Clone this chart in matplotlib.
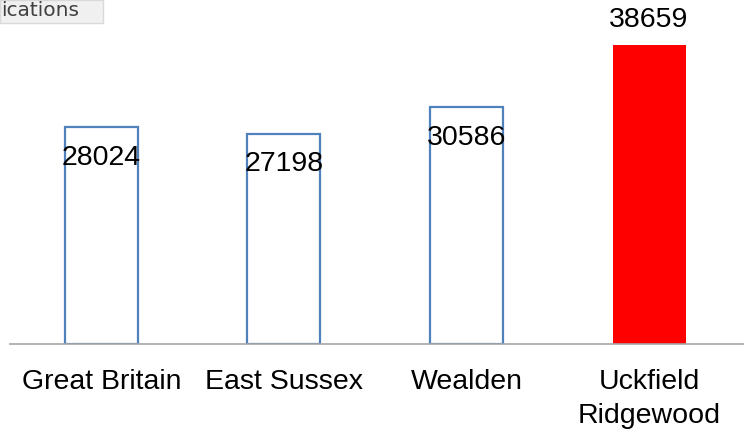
import matplotlib
matplotlib.use('Agg')
import matplotlib.pyplot as plt
from matplotlib.patches import Rectangle

plt.rcParams['font.family'] = ['Liberation Sans', 'DejaVu Sans']

areas = ['Great Britain', 'East Sussex', 'Wealden', 'Uckfield\nRidgewood']
values = [28024, 27198, 30586, 38659]
highlight = [False, False, False, True]

fig = plt.figure(figsize=(7.44, 4.32), dpi=100)
ax = fig.add_axes([10/744, 88/432, 734/744, 344/432])

x = range(len(areas))
for i, (v, h) in enumerate(zip(values, highlight)):
    if h:
        ax.bar(i, v, width=0.4, color='#ff0000', edgecolor='#ff0000', linewidth=0)
        ax.annotate(str(v), (i, v), xytext=(0, 18), textcoords='offset points',
                    ha='center', va='center', fontsize=20.5)
    else:
        ax.bar(i, v, width=0.4, color='white', edgecolor='#4f81bd', linewidth=1.6)
        ax.annotate(str(v), (i, v), xytext=(0, -22), textcoords='offset points',
                    ha='center', va='center', fontsize=20.5)

ax.set_xlim(-0.5, 3.52)
ax.set_ylim(0, 344 / 299 * 38659)
ax.set_xticks(list(x))
ax.set_xticklabels(areas, fontsize=20.5, linespacing=1.4)
ax.tick_params(axis='x', length=0, pad=18)
ax.set_yticks([])
for s in ['top', 'right', 'left']:
    ax.spines[s].set_visible(False)
ax.spines['bottom'].set_color('#a6a6a6')
ax.spines['bottom'].set_linewidth(1.2)

# partly hidden title box in the corner
fig.patches.append(Rectangle((0, 1 - 23/432), 103/744, 23/432, transform=fig.transFigure,
                             facecolor='#f0f0f0', edgecolor='#d9d9d9', linewidth=1))
fig.text(1/744, 1 - 11/432, 'ications', fontsize=14.5, color='#404040', ha='left', va='center',
         family='DejaVu Sans')

plt.savefig('out.png', dpi=100)
